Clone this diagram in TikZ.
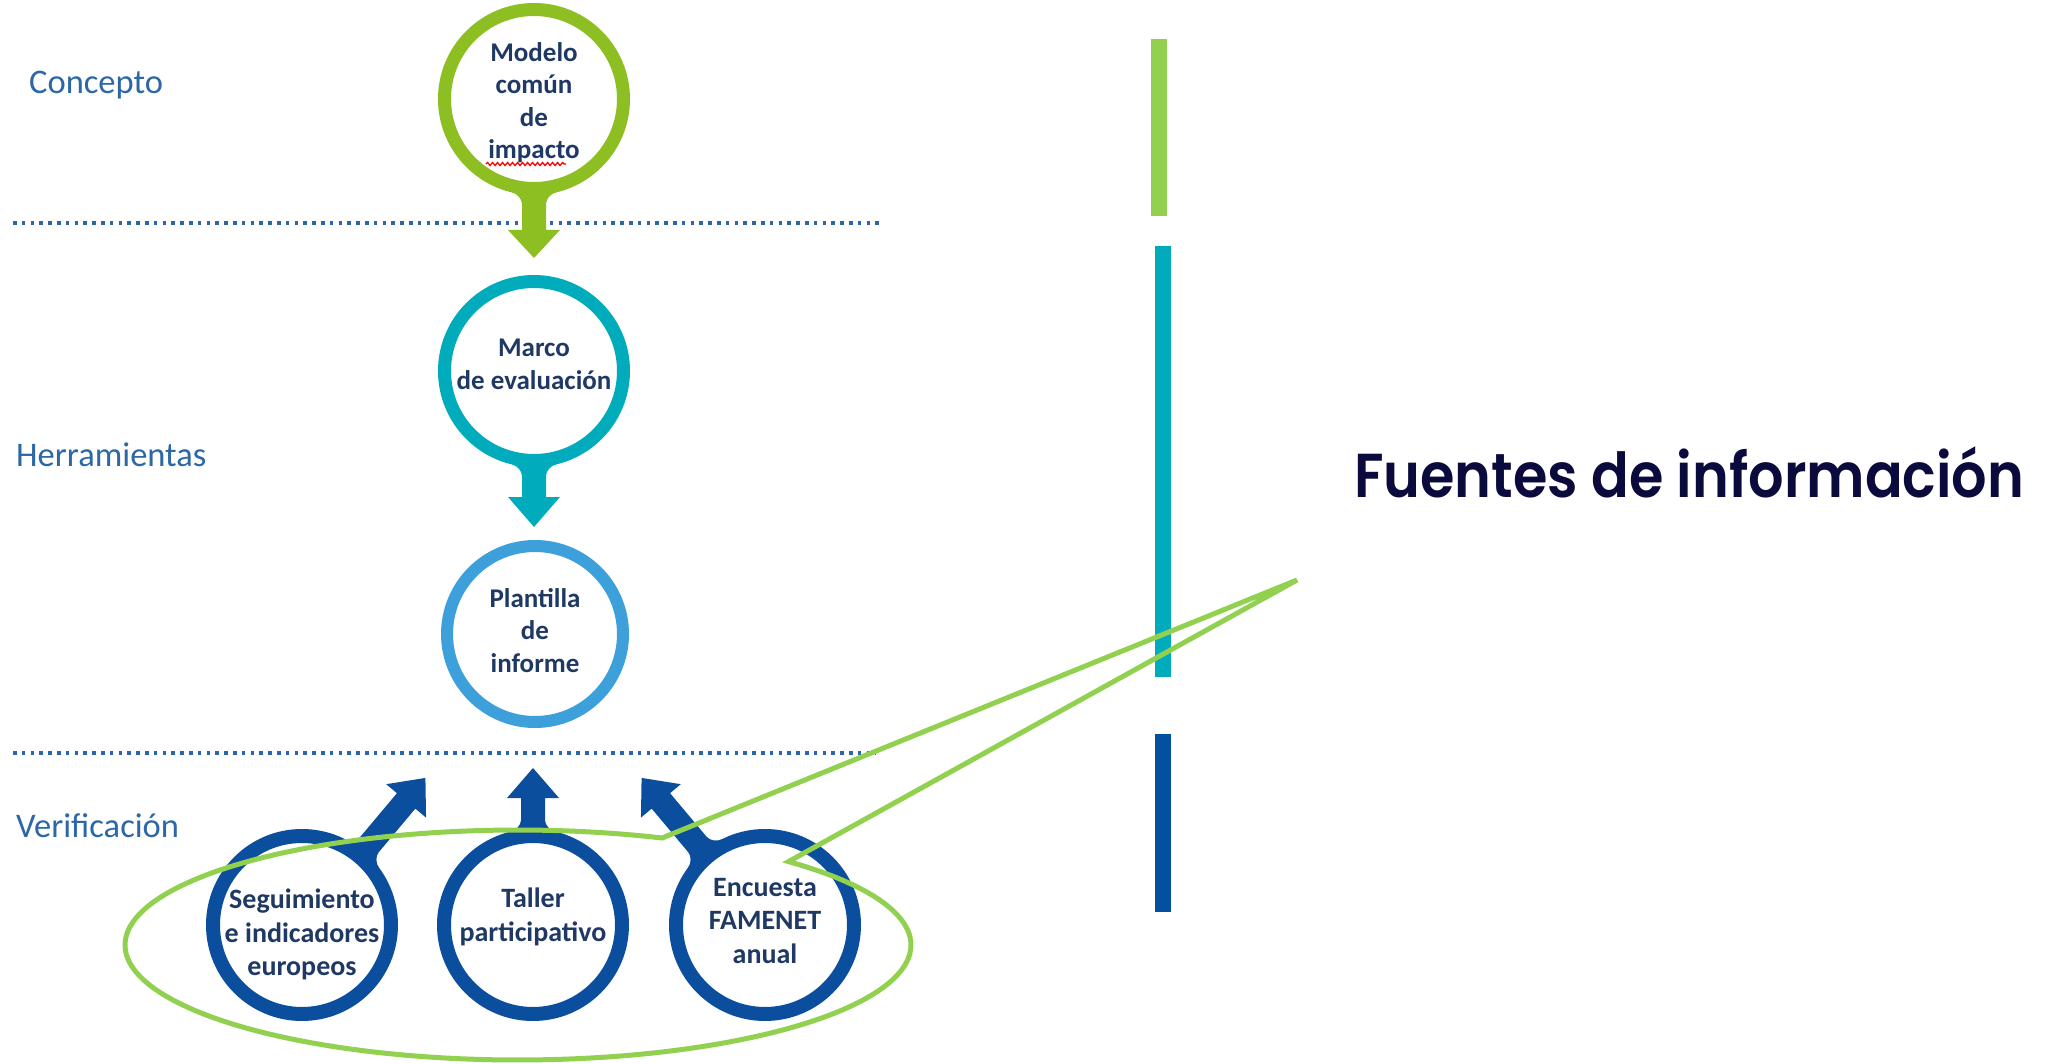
\documentclass[tikz,border=0pt]{standalone}
\usepackage{fontspec}
\setmainfont{Carlito}
\newfontfamily\popfont{Poppins SemiBold}
\usetikzlibrary{calc,decorations.pathmorphing}
\definecolor{cgreen}{RGB}{141,190,34}
\definecolor{cteal}{RGB}{0,172,187}
\definecolor{clight}{RGB}{61,160,219}
\definecolor{cdark}{RGB}{12,78,158}
\definecolor{ccall}{RGB}{146,208,80}
\definecolor{cnavy}{RGB}{31,56,100}
\definecolor{clabel}{RGB}{44,104,168}
\definecolor{cdot}{RGB}{46,100,170}
\definecolor{ctitle}{RGB}{10,10,60}
\definecolor{cbarblue}{RGB}{3,79,160}
% arrow leaving a ring: centre, angle, colour, head base, tip
\newcommand\ringarrow[5]{%
  \begin{scope}[shift={(#1)}, rotate=#2]
    \fill[#3] (88,-22) -- (93.4,-22) .. controls (94.5,-17) and (100,-12) .. (105,-12)
      -- (#4,-12) -- (#4,-26) -- (#5,0) -- (#4,26) -- (#4,12) -- (105,12)
      .. controls (100,12) and (94.5,17) .. (93.4,22) -- (88,22) -- cycle;
  \end{scope}}
\begin{document}
\begin{tikzpicture}[x=1pt,y=-1pt,
  ring/.style={circle, draw, line width=13pt, minimum size=179pt, inner sep=0pt},
  bring/.style={ring, draw=cdark, line width=14pt, minimum size=178pt},
  ctext/.style={text=cnavy, font=\fontsize{27}{32.5}\selectfont\bfseries, align=center, inner sep=0pt},
  btext/.style={text=cnavy, font=\fontsize{28}{33.5}\selectfont\bfseries, align=center, inner sep=0pt},
  lab/.style={text=clabel, font=\fontsize{34.5}{40}\selectfont, anchor=base west, inner sep=0pt},
  dotline/.style={draw=cdot, line width=3.5pt, dash pattern=on 3.5pt off 5.3pt}]
\useasboundingbox (0,0) rectangle (2057,1064);
\fill[white] (0,0) rectangle (2057,1064);

% separators
\coordinate (d1a) at (13,223); \coordinate (d1b) at (881,223);
\coordinate (d2a) at (13,753); \coordinate (d2b) at (876,753);
\draw[dotline] (d1a) -- (d1b);
\draw[dotline] (d2a) -- (d2b);

% right bars
\fill[ccall] (1151,39) rectangle (1167,216);
\fill[cteal] (1155,246) rectangle (1171,677);
\fill[cbarblue] (1155,734) rectangle (1171,912);

% circles
\node[ring, draw=cgreen] (m) at (534,99) {};
\node[ring, draw=cteal] (e) at (534,371) {};
\node[ring, draw=clight, line width=12pt, minimum size=176pt] (p) at (535,634) {};
\node[bring] (s) at (302,925) {};
\node[bring] (t) at (533,925) {};
\node[bring] (f) at (765,925) {};

% arrows
\ringarrow{m.center}{-90}{cgreen}{131}{159}
\ringarrow{e.center}{-90}{cteal}{126}{156}
\ringarrow{s.center}{50}{cdark}{162}{192}
\ringarrow{t.center}{90}{cdark}{127}{157}
\ringarrow{f.center}{130}{cdark}{162}{192}

% circle texts
\node[ctext] (mt) at ([yshift=-3.5pt]m.center) {Modelo\\común\\de\\impacto};
\node[ctext] (et) at ([yshift=6.5pt]e.center) {Marco\\de evaluación};
\node[ctext] (pt) at ([yshift=3.5pt]p.center) {Plantilla\\de\\informe};
\node[btext] (st) at ([yshift=-9.5pt]s.center) {Seguimiento\\e indicadores\\europeos};
\node[btext] (tt) at ([yshift=8pt]t.center) {Taller\\participativo};
\node[btext] (ft) at ([yshift=4pt]f.center) {Encuesta\\FAMENET\\anual};
\draw[red, line width=1.3pt, decorate, decoration={snake, amplitude=1.5pt, segment length=5pt}] (486,164) -- (566,164);

% left labels
\node[lab] (lc) at (29,94) {Concepto};
\node[lab] (lh) at (16,467) {Herramientas};
\node[lab] (lv) at (16,837) {Verificación};

% callout
\coordinate (ctip) at (1297,580);
\draw[ccall, line width=5pt, line join=miter]
  plot[domain=68.5:406.5, samples=160] ({518+393*cos(\x)},{945-115*sin(\x)}) -- (ctip) -- cycle;

% title
\node[anchor=base west, inner sep=0pt, text=ctitle, font=\popfont\fontsize{62}{70}\selectfont] (title) at (1354,497) {\resizebox{670pt}{\height}{Fuentes de información}};
\end{tikzpicture}
\end{document}
